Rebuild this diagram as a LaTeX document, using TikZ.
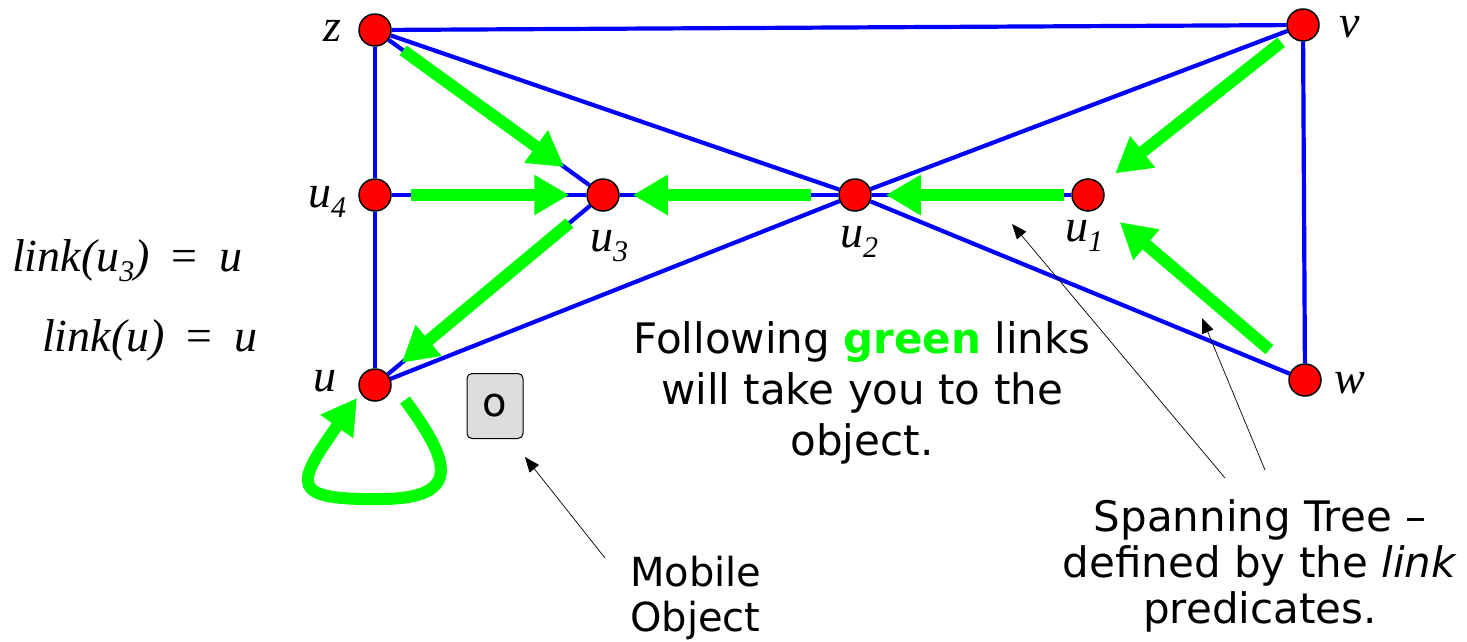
\documentclass[tikz,border=0pt]{standalone}
\usepackage{fontspec}
\setmainfont{DejaVu Sans}
\newfontfamily\timesit{Liberation Serif}
\usetikzlibrary{arrows.meta,positioning}
\definecolor{treegreen}{RGB}{0,255,0}
\definecolor{netblue}{RGB}{0,0,255}
\definecolor{objgray}{RGB}{221,221,221}
\newcommand\usub[1]{u\raisebox{-0.5ex}{\fontsize{30}{30}\selectfont #1}}

\begin{document}
\begin{tikzpicture}[x=1pt, y=-1pt,
  site/.style={circle,draw=black,line width=1.5pt,fill=red,minimum size=32pt,inner sep=0pt},
  net/.style={netblue,line width=4.2pt},
  tree/.style={treegreen,line width=12pt,-{Triangle[length=35pt,width=38pt]}},
  lab/.style={font=\timesit\itshape\fontsize{46}{46}\selectfont,inner sep=0pt,anchor=base},
  note/.style={font=\fontsize{42}{51}\selectfont,align=center,inner sep=0pt,anchor=north},
  ptr/.style={black,line width=0.7pt,-{Triangle[length=15pt,width=12pt]}}]
\useasboundingbox (0,0) rectangle (1467,641);
\node[site] (z) at (375,30) {};
\node[site] (v) at (1303,25) {};
\node[site] (u4) at (375,195) {};
\node[site] (u3) at (603,195) {};
\node[site] (u2) at (855,195) {};
\node[site] (u1) at (1088,195) {};
\node[site] (u) at (375,385) {};
\node[site] (w) at (1305,380) {};
\node[lab] (zlab) at (332,41) {z};
\node[lab] (vlab) at (1350,37) {v};
\node[lab] (wlab) at (1350,393) {w};
\node[lab] (ulab) at (325,391) {u};
\node[lab] (u4lab) at (327,207) {\usub{4}};
\node[lab] (u3lab) at (609,251) {\usub{3}};
\node[lab] (u2lab) at (859,247) {\usub{2}};
\node[lab] (u1lab) at (1084,241) {\usub{1}};
\node[lab,anchor=base west,font=\timesit\itshape\fontsize{46}{46}\selectfont] (link3) at (12,271) {link(\usub{3})\, =\, u};
\node[lab,anchor=base west,font=\timesit\itshape\fontsize{46}{46}\selectfont] (linku) at (42,351) {link(u)\, =\, u};
\draw[net] (z) -- (v);
\draw[net] (z) -- (u4);
\draw[net] (u4) -- (u);
\draw[net] (z) -- (u3);
\draw[net] (z) -- (u2);
\draw[net] (v) -- (u2);
\draw[net] (v) -- (w);
\draw[net] (u4) -- (u3);
\draw[net] (u3) -- (u2);
\draw[net] (u2) -- (u1);
\draw[net] (u3) -- (u);
\draw[net] (u) -- (u2);
\draw[net] (u2) -- (w);
\draw[tree,shorten <=18pt,shorten >=31pt] (z) -- (u3);
\draw[tree,shorten <=19pt,shorten >=17pt] (u4) -- (u3);
\draw[tree,shorten <=27pt,shorten >=13pt] (u2) -- (u3);
\draw[tree,shorten <=7pt,shorten >=14pt] (u1) -- (u2);
\draw[tree,shorten <=11pt,shorten >=18pt] (v) -- (u1);
\draw[tree,shorten <=30pt,shorten >=25pt] (w) -- (u1);
\draw[tree,shorten <=27pt,shorten >=18pt] (u3) -- (u);
\draw[tree] ([shift={(30,15)}]u.center) .. controls ([shift={(70,70)}]u.center) and ([shift={(94,114)}]u.center) .. ([shift={(5,114)}]u.center) .. controls ([shift={(-86,115)}]u.center) and ([shift={(-80,100)}]u.center) .. ([shift={(-18,13)}]u.center);
\node[draw=black,line width=1pt,fill=objgray,rounded corners=5pt,minimum width=56pt,minimum height=65pt,inner sep=0pt,font=\fontsize{40}{40}\selectfont] (obj) at (495,406) {o};
\node[note] (follow) at (862,321) {Following \textbf{\color{treegreen}green} links\\will take you to the\\object.};
\node[note,anchor=north west,align=left,font=\fontsize{40}{45}\selectfont] (mobile) at (630,556) {Mobile\\Object};
\node[note,font=\fontsize{42}{46}\selectfont] (span) at (1260,499) {Spanning Tree --\\defined by the \textit{link}\\predicates.};
\coordinate (objtail) at (605,558);
\coordinate (objtip) at (525,457);
\coordinate (spantail1) at (1225,478);
\coordinate (spantip1) at (1012,224);
\coordinate (spantail2) at (1265,470);
\coordinate (spantip2) at (1202,318);
\draw[ptr] (objtail) -- (objtip);
\draw[ptr] (spantail1) -- (spantip1);
\draw[ptr] (spantail2) -- (spantip2);
\end{tikzpicture}
\end{document}
